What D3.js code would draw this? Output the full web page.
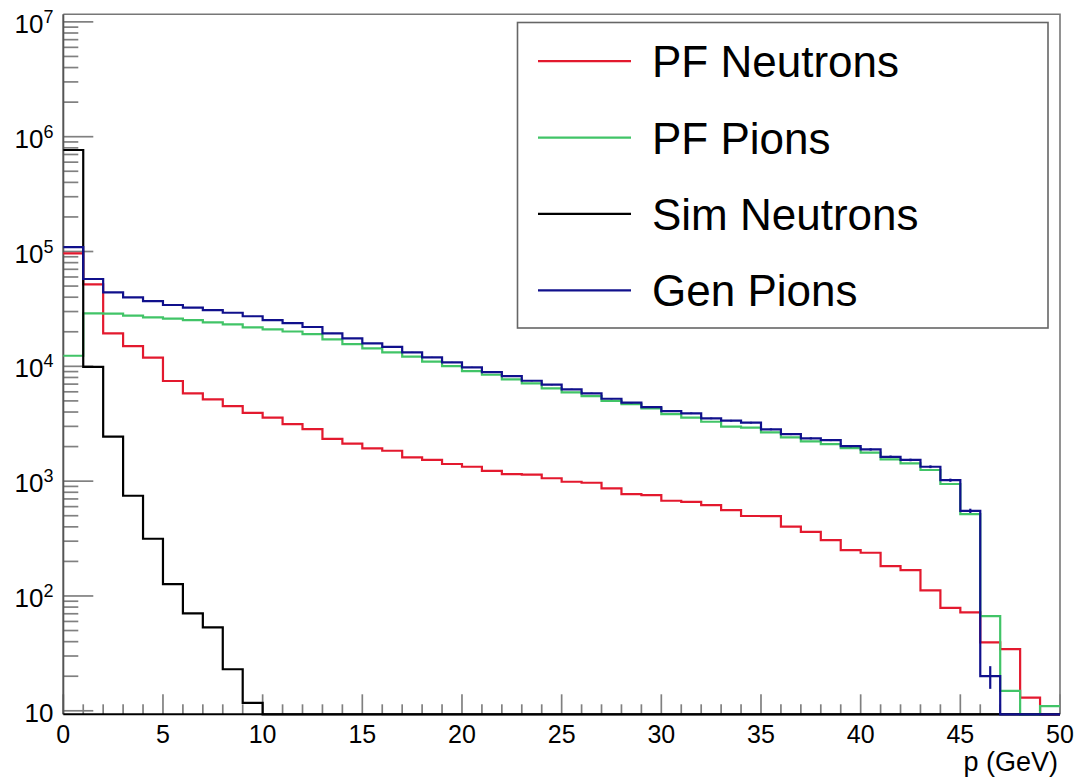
<!DOCTYPE html>
<html>
<head>
<meta charset="utf-8">
<script src="https://cdn.jsdelivr.net/npm/d3@7"></script>
<style>
  html, body { margin: 0; padding: 0; background: #fff; }
  svg { display: block; font-family: "Liberation Sans", Arial, Helvetica, sans-serif; }
</style>
</head>
<body>
<svg id="chart" width="1079" height="778"></svg>
<script>
// Momentum spectra, 1 GeV bins from 0 to 50 GeV (entries per bin)
const binCount = 50;
const binWidth = 1;

const pfNeutrons = [96400, 51800, 19400, 15000, 11900, 7450, 5820, 5160, 4510, 3940,
                    3570, 3140, 2840, 2330, 2120, 1930, 1840, 1610, 1530, 1410,
                    1335, 1230, 1150, 1140, 1060, 988, 968, 865, 772, 757,
                    675, 661, 619, 560, 497, 495, 401, 362, 307, 251,
                    238, 182, 168, 112, 78.9, 71.9, 39.4, 34.5, 13.0, 0];

const pfPions = [12370, 28970, 28800, 27600, 26700, 25990, 25300, 24170, 23220, 21860,
                 21000, 20100, 19110, 17180, 15640, 14350, 13250, 12130, 10970, 10060,
                 9100, 8450, 7700, 7110, 6430, 5940, 5510, 5010, 4690, 4300,
                 3840, 3570, 3290, 2980, 2920, 2660, 2410, 2220, 2100, 1940,
                 1770, 1550, 1430, 1250, 944, 516, 66.8, 14.9, 0, 11.0];

const simNeutrons = [766000, 9900, 2440, 746, 315, 127, 70.5, 53.2, 23.0, 11.7,
                     0, 0, 0, 0, 0, 0, 0, 0, 0, 0,
                     0, 0, 0, 0, 0, 0, 0, 0, 0, 0,
                     0, 0, 0, 0, 0, 0, 0, 0, 0, 0,
                     0, 0, 0, 0, 0, 0, 0, 0, 0, 0];

const genPions = [109400, 57600, 44100, 39900, 37000, 34200, 32400, 30900, 29300, 27300,
                  25300, 23800, 22000, 19400, 17500, 15850, 14800, 13250, 11980, 10830,
                  9800, 8920, 8230, 7490, 6920, 6310, 5820, 5220, 4820, 4420,
                  4080, 3900, 3520, 3360, 3230, 2830, 2570, 2360, 2280, 2020,
                  1890, 1630, 1530, 1335, 1020, 552, 20, 0, 0, 0];

const seriesNames = ["PF Neutrons", "PF Pions", "Sim Neutrons", "Gen Pions"];
const seriesColors = ["#e3192e", "#41c467", "#000000", "#10108c"];

const xTickLabels = [0, 5, 10, 15, 20, 25, 30, 35, 40, 45, 50];
const yTickExponents = [1, 2, 3, 4, 5, 6, 7];
const xTitle = "p (GeV)";

// ---- layout ----
const svg = d3.select("#chart");
const frameL = 63.3, frameR = 1060, frameT = 14.3, frameB = 714.3;
const yMin = 9.32, yMax = 1.164e7;

const x = d3.scaleLinear().domain([0, binCount * binWidth]).range([frameL, frameR]);
const y = d3.scaleLog().domain([yMin, yMax]).range([frameB, frameT]);

const font = '"Liberation Sans", Arial, Helvetica, sans-serif';

// frame (top and right edges)
svg.append("path")
  .attr("d", `M${frameL},${frameT}H${frameR}V${frameB}`)
  .attr("fill", "none").attr("stroke", "#777").attr("stroke-width", 1.6);

// y-axis ticks (inside, log minor ticks)
const yTicks = y.ticks();
svg.append("g").selectAll("line").data(yTicks).join("line")
  .attr("x1", frameL)
  .attr("x2", d => Math.abs(Math.log10(d) - Math.round(Math.log10(d))) < 1e-9 ? frameL + 30 : frameL + 15)
  .attr("y1", d => y(d)).attr("y2", d => y(d))
  .attr("stroke", "#808080").attr("stroke-width", 1.7);

// x-axis ticks (inside, 1 GeV minor ticks)
const xMinor = d3.range(0, binCount + 1, binWidth);
svg.append("g").selectAll("line").data(xMinor).join("line")
  .attr("x1", d => x(d)).attr("x2", d => x(d))
  .attr("y1", frameB)
  .attr("y2", d => d % 5 === 0 ? frameB - 20 : frameB - 10)
  .attr("stroke", "#808080").attr("stroke-width", 1.7);

// y tick labels: 10 with exponent
const yLab = svg.append("g").attr("font-family", font).attr("fill", "#000");
yTickExponents.forEach(e => {
  const t = yLab.append("text")
    .attr("x", 53.5).attr("y", y(Math.pow(10, e)) + 11)
    .attr("text-anchor", "end").attr("font-size", 26);
  t.append("tspan").text("10");
  if (e !== 1) {
    t.append("tspan").attr("dy", -10).attr("font-size", 18).text(String(e));
  }
});

// x tick labels
svg.append("g").selectAll("text").data(xTickLabels).join("text")
  .attr("x", d => x(d)).attr("y", 743)
  .attr("text-anchor", "middle").attr("font-size", 25).attr("font-family", font)
  .text(d => d);

// x-axis title
svg.append("text").attr("x", 1058).attr("y", 771)
  .attr("text-anchor", "end").attr("font-size", 27).attr("font-family", font)
  .text(xTitle);

// axis lines
svg.append("line").attr("x1", frameL).attr("x2", frameL).attr("y1", frameT).attr("y2", frameB)
  .attr("stroke", "#555").attr("stroke-width", 2);
svg.append("line").attr("x1", frameL).attr("x2", frameR).attr("y1", frameB).attr("y2", frameB)
  .attr("stroke", "#000").attr("stroke-width", 2);

// ---- histograms ----
function stepPoints(values) {
  const pts = values.map((v, i) => [i * binWidth, Math.max(v, yMin)]);
  pts.push([binCount * binWidth, Math.max(values[values.length - 1], yMin)]);
  return pts;
}
const stepLine = d3.line()
  .x(d => x(d[0])).y(d => y(d[1]))
  .curve(d3.curveStepAfter);

const allSeries = [pfNeutrons, pfPions, simNeutrons, genPions];
const hg = svg.append("g");
allSeries.forEach((vals, k) => {
  hg.append("path")
    .attr("d", stepLine(stepPoints(vals)))
    .attr("fill", "none")
    .attr("stroke", seriesColors[k])
    .attr("stroke-width", 2.2)
    .attr("stroke-linejoin", "miter");
});

// statistical error bars on the generator-level pion histogram
hg.append("g").selectAll("line")
  .data(genPions.map((v, i) => ({ v, i })).filter(d => d.v > 0))
  .join("line")
  .attr("x1", d => x((d.i + 0.5) * binWidth)).attr("x2", d => x((d.i + 0.5) * binWidth))
  .attr("y1", d => y(Math.max(d.v - Math.sqrt(d.v), yMin)))
  .attr("y2", d => y(d.v + Math.sqrt(d.v)))
  .attr("stroke", seriesColors[3]).attr("stroke-width", 2.2);

// ---- legend ----
const lg = svg.append("g");
const lx0 = 517.5, ly0 = 22.5, lx1 = 1048, ly1 = 328;
lg.append("rect").attr("x", lx0).attr("y", ly0)
  .attr("width", lx1 - lx0).attr("height", ly1 - ly0)
  .attr("fill", "#fff").attr("stroke", "#666").attr("stroke-width", 1.6);
const rowH = (ly1 - ly0) / seriesNames.length;
seriesNames.forEach((name, k) => {
  const cy = ly0 + rowH * (k + 0.5) + 0.5;
  lg.append("line").attr("x1", 538).attr("x2", 631).attr("y1", cy).attr("y2", cy)
    .attr("stroke", seriesColors[k]).attr("stroke-width", 2.2);
  lg.append("text").attr("x", 652).attr("y", cy + 16)
    .attr("font-size", 44).attr("font-family", font).attr("fill", "#000")
    .text(name);
});
</script>
</body>
</html>
